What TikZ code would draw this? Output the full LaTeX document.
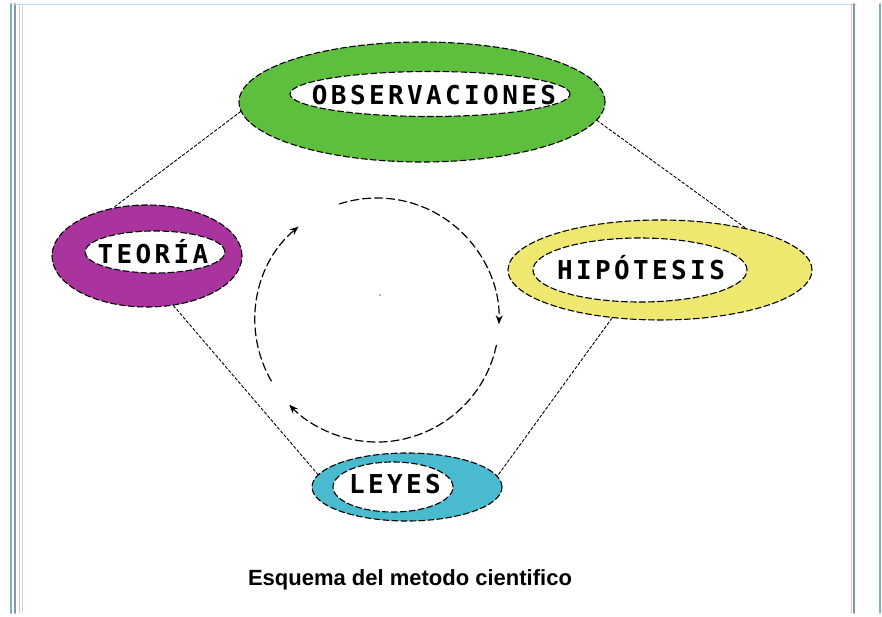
\documentclass[tikz,border=0pt]{standalone}
\usepackage{fontspec}
\usetikzlibrary{shapes.geometric,arrows.meta}
\newfontfamily\labelfont[LetterSpace=13]{DejaVu Sans Mono}
\newfontfamily\capfont{Liberation Sans}
\definecolor{obsgreen}{RGB}{94,190,62}
\definecolor{teomagenta}{RGB}{170,52,158}
\definecolor{hipyellow}{RGB}{238,232,112}
\definecolor{leycyan}{RGB}{74,186,206}
\definecolor{framegray}{RGB}{130,150,170}
\definecolor{frameteal}{RGB}{120,185,165}
\definecolor{framepink}{RGB}{240,190,195}
\definecolor{frameblue}{RGB}{190,220,240}
\begin{document}
\begin{tikzpicture}[x=1pt,y=1pt,line cap=round,line join=round,>=stealth]
	\tikzset{ring/.style={ellipse,draw,dash pattern=on 6pt off 3pt,line width=1.1pt,inner sep=0pt},
		hole/.style={ring,fill=white},
		word/.style={font=\labelfont\bfseries\fontsize{26}{26}\selectfont,inner sep=0pt},
		link/.style={dash pattern=on 3pt off 2pt,line width=0.9pt},
		turn/.style={dash pattern=on 8pt off 4pt,line width=1.2pt,-{Stealth[length=9pt,width=7pt]}}}
	\useasboundingbox (0,0) rectangle (882,-617);
	% marco de la ventana
	\draw[frameteal,line width=2pt] (11,-4)--(11,-613);
	\draw[framegray,line width=2pt] (15,-4)--(15,-613);
	\draw[framepink,line width=1pt] (19,-4)--(19,-613);
	\draw[frameblue,line width=1pt] (22,-6)--(22,-612) (13,-5)--(856,-5);
	\draw[framegray,line width=1.5pt] (854,-4)--(854,-613);
	\draw[framepink,line width=1pt] (851,-4)--(851,-613);
	\draw[frameteal,line width=1.5pt] (880,-4)--(880,-613);
	% elipses
	\node[ring,fill=obsgreen,minimum width=366,minimum height=120] (obs) at (422,-102) {};
	\node[hole,minimum width=280,minimum height=45] (obs-in) at (430,-94) {};
	\node[word] (obs-txt) at (434,-95) {OBSERVACIONES};
	\node[ring,fill=teomagenta,minimum width=190,minimum height=102] (teo) at (147,-256) {};
	\node[hole,minimum width=140,minimum height=42] (teo-in) at (155,-252) {};
	\node[word] (teo-txt) at (153,-252) {TEORÍA};
	\node[ring,fill=hipyellow,minimum width=304,minimum height=100] (hip) at (660,-270) {};
	\node[hole,minimum width=214,minimum height=64] (hip-in) at (640,-270) {};
	\node[word] (hip-txt) at (641,-268) {HIPÓTESIS};
	\node[ring,fill=leycyan,minimum width=190,minimum height=68] (ley) at (407,-487) {};
	\node[hole,minimum width=120,minimum height=50] (ley-in) at (393,-487) {};
	\node[word] (ley-txt) at (395,-484) {LEYES};
	% uniones
	\draw[link] (obs.183)--(teo.125);
	\draw[link] (obs.-6)--(hip.26);
	\draw[link] (teo.-62)--(ley.172);
	\draw[link] (hip.-135)--(ley.7);
	% ciclo
	\coordinate (cyc) at (377,-320);
	\draw[turn] ([shift={(108:122)}]cyc) arc (108:-2:122);
	\draw[turn] ([shift={(-12:122)}]cyc) arc (-12:-136:122);
	\draw[turn] ([shift={(-150:122)}]cyc) arc (210:130:122);
	\fill[gray] (380,-295) circle (1);
	\node[font=\capfont\bfseries\fontsize{22}{22}\selectfont] (cap) at (410,-580) {Esquema del metodo cientifico};
\end{tikzpicture}
\end{document}
